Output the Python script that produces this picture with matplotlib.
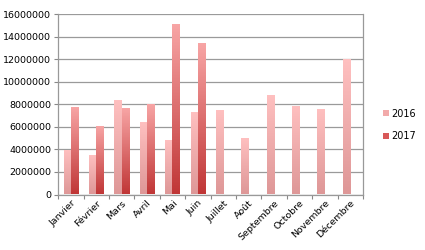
import matplotlib
matplotlib.use("Agg")
import matplotlib.pyplot as plt
import numpy as np
from matplotlib.colors import LinearSegmentedColormap
from matplotlib.patches import Patch

months = ["Janvier", "Février", "Mars", "Avril", "Mai", "Juin", "Juillet",
          "Août", "Septembre", "Octobre", "Novembre", "Décembre"]
v2016 = [3950000, 3500000, 8350000, 6400000, 4850000, 7300000, 7500000,
         5000000, 8800000, 7850000, 7550000, 12000000]
v2017 = [7800000, 6050000, 7650000, 8050000, 15100000, 13450000]
yticks = [0, 2000000, 4000000, 6000000, 8000000, 10000000, 12000000, 14000000, 16000000]

plt.rcParams['font.family'] = ['DejaVu Sans']
fig = plt.figure(figsize=(4.25, 2.5), dpi=100)
ax = fig.add_axes([0.137, 0.222, 0.717, 0.722])

x = np.arange(len(months))
w = 0.29
cm16 = LinearSegmentedColormap.from_list("c16", ["#DE9797", "#FFC0C0"])
cm17 = LinearSegmentedColormap.from_list("c17", ["#C03636", "#F8A6A6"])
grad = np.linspace(0, 1, 256).reshape(-1, 1)

def gbars(xs, vals, cmap):
    bars = ax.bar(xs, vals, w, color="none", edgecolor="none", zorder=3)
    for b in bars:
        x0, y0 = b.get_x(), b.get_y()
        im = ax.imshow(grad, cmap=cmap, origin="lower", aspect="auto",
                       extent=[x0, x0 + b.get_width(), y0, y0 + b.get_height()],
                       zorder=3)
        im.set_clip_path(b)
    return bars

gbars(x - w / 2, v2016, cm16)
gbars(x[:len(v2017)] + w / 2, v2017, cm17)

ax.set_xlim(-0.5, len(months) - 0.5)
ax.set_ylim(0, 16000000)
ax.set_yticks(yticks)
ax.set_yticklabels([str(t) for t in yticks], fontsize=6.8)
ax.yaxis.grid(True, color="#9A9A9A", linewidth=0.9, zorder=0)
ax.set_axisbelow(True)
ax.set_xticks(x)
ax.set_xticklabels(months, rotation=45, ha="right", va="top",
                   rotation_mode="anchor", fontsize=6.8)
ax.tick_params(axis="x", length=0, pad=3)
ax.set_xticks(np.arange(-0.5, len(months)), minor=True)
ax.tick_params(axis="x", which="minor", length=3, color="#888888", width=0.8)
ax.tick_params(axis="y", length=3, color="#888888", width=0.8, pad=2)
for s in ["left", "bottom", "right"]:
    ax.spines[s].set_color("#999999")
    ax.spines[s].set_linewidth(0.9)
ax.spines["top"].set_visible(False)

handles = [Patch(facecolor="#F2AAAA", edgecolor="none", label="2016"),
           Patch(facecolor="#D85858", edgecolor="none", label="2017")]
fig.legend(handles=handles, loc="center left", bbox_to_anchor=(0.88, 0.5),
           frameon=False, fontsize=7, handlelength=0.6, handleheight=0.6,
           handletextpad=0.3, labelspacing=1.3)

fig.savefig("out.png", dpi=100)
